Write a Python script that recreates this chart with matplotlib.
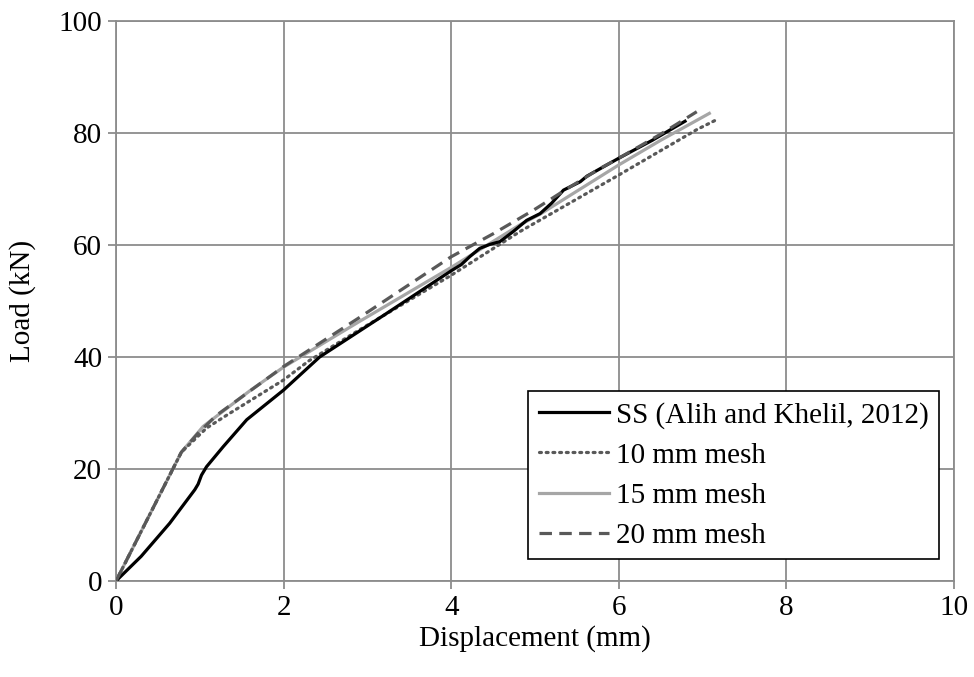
import matplotlib
matplotlib.use("Agg")
import matplotlib.pyplot as plt

# Load-displacement curves: test (SS) and FE models with three mesh sizes
ss_x = [0, 0.3, 0.64, 0.94, 0.98, 1.02, 1.08, 1.28, 1.56, 2.0, 2.43, 3.2, 4.0,
        4.12, 4.22, 4.34, 4.46, 4.58, 4.74, 4.9, 5.06, 5.2, 5.34, 5.54, 5.62,
        6.0, 6.4, 6.79]
ss_y = [0, 4.4, 10.3, 16.3, 17.3, 18.9, 20.4, 24.0, 28.8, 34.1, 40.0, 47.5, 55.4,
        56.5, 57.9, 59.4, 60.1, 60.6, 62.4, 64.4, 65.6, 67.5, 69.8, 71.3, 72.3,
        75.5, 78.7, 82.1]

mesh10_x = [0, 0.78, 1.08, 1.32, 1.6, 2.0, 2.3, 2.9, 4.0, 4.82, 6.0, 6.93, 7.17]
mesh10_y = [0, 23.0, 27.3, 29.6, 32.2, 35.9, 39.3, 44.8, 54.6, 62.4, 72.5, 80.6, 82.4]

mesh15_x = [0, 0.78, 1.04, 1.32, 1.6, 2.0, 2.2, 2.9, 4.0, 4.82, 5.06, 6.0, 6.5, 7.08]
mesh15_y = [0, 23.0, 27.6, 30.8, 34.0, 38.2, 40.0, 46.3, 56.0, 63.6, 65.5, 74.3, 78.7, 83.5]

mesh20_x = [0, 0.78, 0.98, 1.2, 1.44, 2.0, 2.9, 4.0, 4.5, 4.98, 5.4, 5.78, 6.0, 6.5, 6.93]
mesh20_y = [0, 23.0, 26.4, 29.6, 32.2, 38.3, 47.0, 57.9, 62.0, 66.2, 70.2, 73.7, 75.5, 79.8, 83.8]

labels = ["SS (Alih and Khelil, 2012)", "10 mm mesh", "15 mm mesh", "20 mm mesh"]
x_ticks = [0, 2, 4, 6, 8, 10]
y_ticks = [0, 20, 40, 60, 80, 100]

plt.rcParams["font.family"] = ["Liberation Serif", "DejaVu Serif"]
plt.rcParams["font.size"] = 21

fig = plt.figure(figsize=(9.74, 6.77), dpi=100)
ax = fig.add_axes([0.1191, 0.1418, 0.8604, 0.8272])

grid_c = "#8c8c8c"
ax.plot(ss_x, ss_y, color="black", lw=2.3, label=labels[0], zorder=5)
ax.plot(mesh10_x, mesh10_y, color="#595959", lw=2.3, linestyle=(0, (0.6, 1.5)),
        dash_capstyle="round", label=labels[1], zorder=4)
ax.plot(mesh15_x, mesh15_y, color="#a6a6a6", lw=2.3, label=labels[2], zorder=3)
ax.plot(mesh20_x, mesh20_y, color="#595959", lw=2.3, linestyle=(0, (3.9, 2.3)),
        label=labels[3], zorder=6)

ax.set_xlim(0, 10)
ax.set_ylim(0, 100)
ax.set_xticks(x_ticks)
ax.set_yticks(y_ticks)
ax.grid(True, color=grid_c, lw=1.3)
ax.set_axisbelow(True)
for s in ax.spines.values():
    s.set_color(grid_c)
    s.set_linewidth(1.3)
ax.tick_params(length=6, width=1.3, color=grid_c, pad=4)

ax.set_xlabel("Displacement (mm)", labelpad=3)
ax.set_ylabel("Load (kN)", labelpad=16)

leg = ax.legend(loc="lower right", bbox_to_anchor=(0.982, 0.039), borderaxespad=0,
                fancybox=False, framealpha=1, edgecolor="black", handlelength=2.4,
                handletextpad=0.25, labelspacing=0.47, borderpad=0.35)
leg.get_frame().set_linewidth(1.2)

fig.savefig("out.png", dpi=100)
